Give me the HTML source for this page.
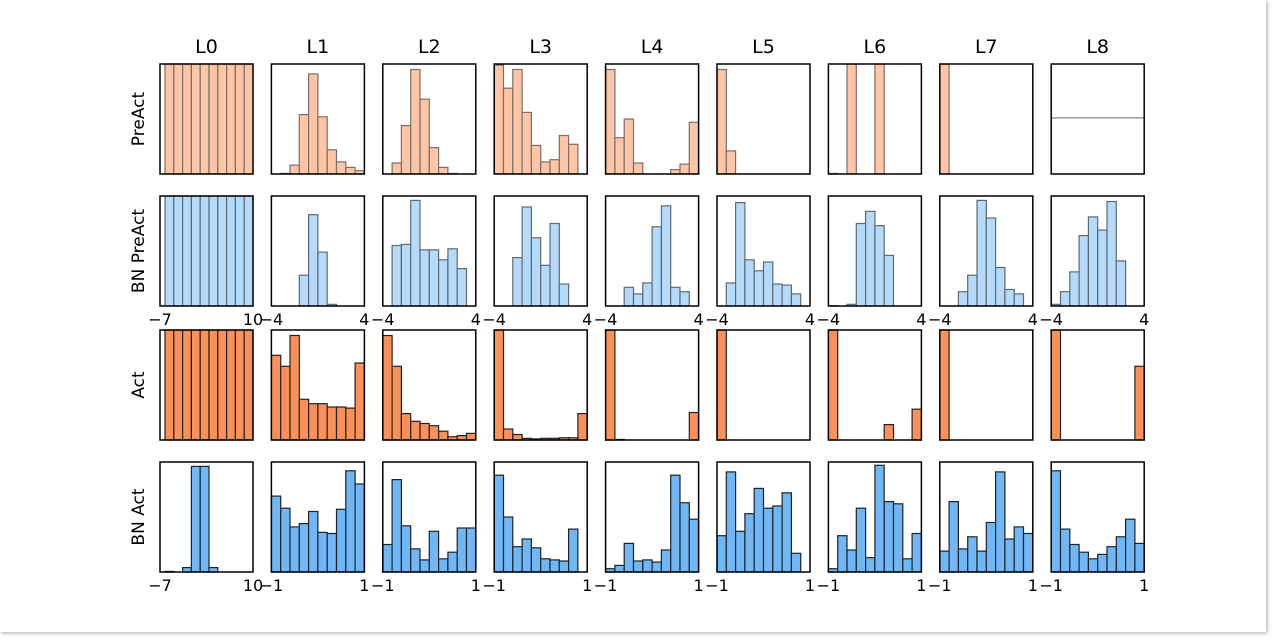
<!DOCTYPE html>
<html><head><meta charset="utf-8"><style>
body{margin:0;background:#fff;}
#frame{position:absolute;left:0;top:0;width:1266px;height:632px;background:#fff;box-shadow:1px 1px 4px rgba(0,0,0,0.35);}
svg{position:absolute;left:0;top:0;}
text{font-family:"DejaVu Sans","Liberation Sans",sans-serif;fill:#000;}
</style></head><body>
<div id="frame"></div>
<svg id="chart" width="1276" height="640"></svg>
<script>
const layers = ["L0","L1","L2","L3","L4","L5","L6","L7","L8"];
const rowNames = ["PreAct","BN PreAct","Act","BN Act"];
const rowFill = ["#fec6a6","#b6dbfa","#fb9159","#6fb7f6"];
const rowEdge = ["#7a6e68","#5d6a75","#222","#222"];
const preAct = [
 [1,1,1,1,1,1,1,1,1,1],
 [0,0.005,0.08,0.54,0.91,0.52,0.22,0.11,0.06,0.03],
 [0,0.10,0.44,0.95,0.68,0.24,0.06,0.005,0,0],
 [0.99,0.78,0.95,0.56,0.26,0.11,0.13,0.35,0.27,0],
 [0.95,0.33,0.5,0.10,0,0,0,0.04,0.09,0.47],
 [0.95,0.21,0,0,0,0,0,0,0,0],
 [0.005,0,1,0,0,1,0,0,0,0],
 [1,0,0,0,0,0,0,0,0,0],
 null
];
const preActFlatLevel = 0.51;
const bnPreAct = [
 [1,1,1,1,1,1,1,1,1,1],
 [0,0,0,0.28,0.83,0.49,0.015,0,0,0],
 [0,0.55,0.56,0.96,0.51,0.51,0.42,0.52,0.34,0],
 [0,0,0.44,0.90,0.62,0.37,0.75,0.20,0,0],
 [0,0,0.17,0.11,0.21,0.72,0.91,0.17,0.13,0],
 [0,0.21,0.94,0.42,0.32,0.40,0.20,0.19,0.11,0],
 [0.003,0,0.015,0.75,0.86,0.73,0.46,0,0,0],
 [0,0,0.13,0.28,0.96,0.80,0.35,0.15,0.11,0],
 [0.015,0.13,0.31,0.64,0.81,0.69,0.95,0.41,0,0]
];
const act = [
 [1,1,1,1,1,1,1,1,1,1],
 [0.77,0.67,0.95,0.37,0.33,0.33,0.30,0.30,0.29,0.70],
 [0.95,0.67,0.24,0.17,0.15,0.13,0.08,0.03,0.04,0.06],
 [1,0.10,0.05,0.015,0.01,0.015,0.015,0.02,0.02,0.24],
 [1,0.005,0,0,0,0,0,0,0,0.25],
 [1,0,0,0,0,0,0,0,0,0],
 [1,0,0,0,0,0,0.14,0,0,0.28],
 [1,0,0,0,0,0,0,0,0,0],
 [1,0,0,0,0,0,0,0,0,0.67]
];
const bnAct = [
 [0.005,0,0.04,0.96,0.96,0.04,0,0,0,0],
 [0.69,0.58,0.41,0.44,0.55,0.36,0.35,0.57,0.92,0.80],
 [0.25,0.84,0.42,0.21,0.11,0.37,0.12,0.18,0.40,0.40],
 [0.88,0.50,0.23,0.30,0.22,0.12,0.11,0.10,0.39,0],
 [0.03,0.06,0.26,0.10,0.11,0.09,0.20,0.88,0.63,0.48],
 [0.33,0.91,0.37,0.53,0.76,0.58,0.60,0.72,0.17,0],
 [0.03,0.33,0.20,0.58,0.13,0.97,0.64,0.62,0.12,0.35],
 [0.19,0.64,0.21,0.32,0.19,0.45,0.91,0.30,0.41,0.35],
 [0.92,0.39,0.25,0.18,0.12,0.16,0.23,0.32,0.48,0.26]
];
const rowData = [preAct,bnPreAct,act,bnAct];
const tickRow1 = [["\u22127","10"],["\u22124","4"]];
const tickRow3 = [["\u22127","10"],["\u22121","1"]];

const NS="http://www.w3.org/2000/svg";
const svg=document.getElementById('chart');
const colLeft=i=>160+i*111.4, W=93;
const rowTop=[64,196,330,462], H=110;
function mk(tag,attrs,parent){const e=document.createElementNS(NS,tag);for(const k in attrs)e.setAttribute(k,attrs[k]);(parent||svg).appendChild(e);return e;}

layers.forEach((L,i)=>{
  const t=mk('text',{x:colLeft(i)+W/2,y:53,'text-anchor':'middle','font-size':19});
  t.textContent=L;
  
  
});
rowNames.forEach((n,r)=>{
  const cy=rowTop[r]+H/2;
  const t=mk('text',{x:0,y:0,transform:`translate(144,${cy}) rotate(-90)`,'text-anchor':'middle','font-size':17});
  t.textContent=n;
  
  
});

rowData.forEach((rows,r)=>{
  layers.forEach((L,i)=>{
    const x0=colLeft(i), y0=rowTop[r];
    const g=mk('g',{});
    
    
    const vals=rows[i];
    const off=(i===0)?5:0;
    const bw=(W-off)/10;
    const yS=v=>y0+H-v*H;
    if(vals){
      vals.forEach((v,k)=>{
        if(v<=0)return;
        const b=mk('rect',{x:x0+off+k*bw,y:yS(v),width:bw,height:v*H,fill:rowFill[r],stroke:rowEdge[r],'stroke-width':1.2},g);
        
        
      });
    } else {
      const ln=mk('line',{x1:x0,x2:x0+W,y1:yS(preActFlatLevel),y2:yS(preActFlatLevel),stroke:'#999','stroke-width':1.5},g);
      
      
    }
    const fr=mk('rect',{x:x0,y:y0,width:W,height:H,fill:'none',stroke:'#000','stroke-width':1.5},g);
    
    
    if(r===1||r===3){
      const tk=(r===1?tickRow1:tickRow3)[i===0?0:1];
      const ty=y0+H+19;
      [[x0,tk[0]],[x0+W,tk[1]]].forEach(([tx,s],j)=>{
        const t=mk('text',{x:tx,y:ty,'text-anchor':'middle','font-size':16});
        t.textContent=s;
        
        
      });
    }
  });
});
</script>
</body></html>
